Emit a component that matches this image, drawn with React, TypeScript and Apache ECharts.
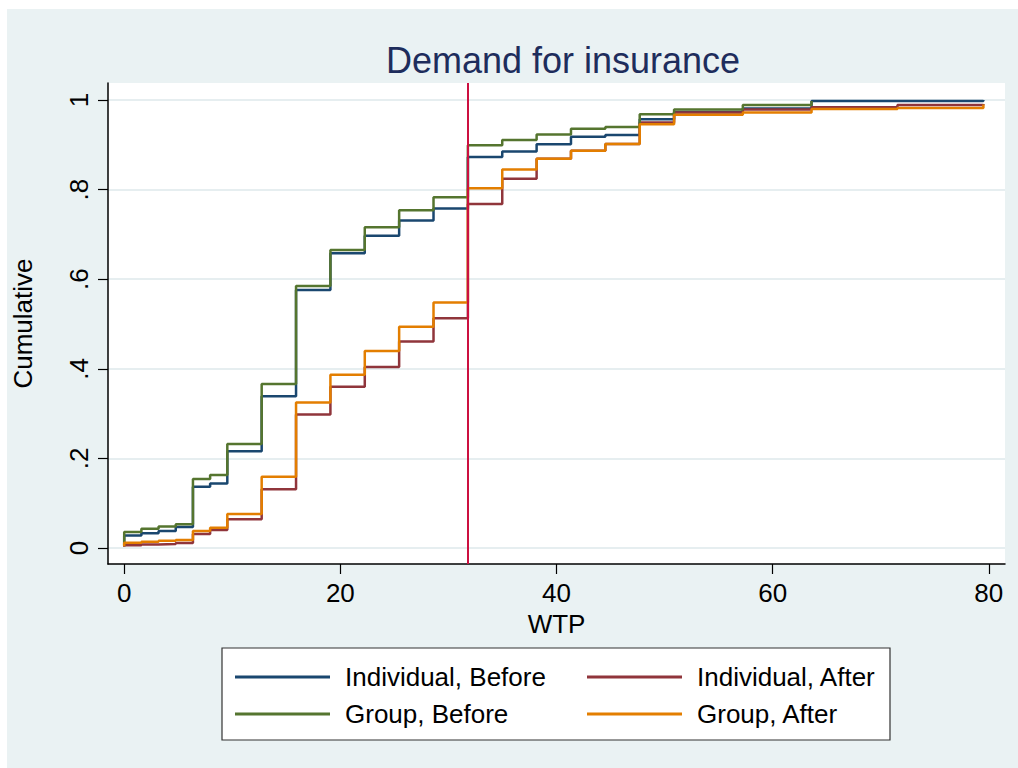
import React, { useEffect, useRef } from "react";
import * as echarts from "echarts";

const FONT = "'Liberation Sans', Arial, Helvetica, sans-serif";

const titleText = "Demand for insurance";
const seriesNames = ["Individual, Before", "Individual, After", "Group, Before", "Group, After"];
const seriesColors = ["#1a476f", "#90353b", "#55752f", "#e37e00"];

// WTP values where the cumulative share steps up
const stepX = [0, 1.59, 3.18, 4.77, 6.36, 7.95, 9.54, 12.72, 15.9, 19.08, 22.26, 25.44, 28.62, 31.8,
  34.98, 38.16, 41.34, 44.52, 47.7, 50.88, 57.24, 63.6, 71.55, 79.5];

const startShare = [0.004, 0.003, 0.005, 0.004];

const individualBefore = [0.028, 0.033, 0.038, 0.047, 0.137, 0.144, 0.216, 0.339, 0.576, 0.658, 0.697, 0.731, 0.758, 0.873,
  0.885, 0.901, 0.918, 0.922, 0.957, 0.973, 0.981, 0.998, 0.998, 1.0];
const individualAfter = [0.006, 0.008, 0.009, 0.011, 0.031, 0.040, 0.064, 0.131, 0.298, 0.360, 0.404, 0.461, 0.513, 0.768,
  0.824, 0.869, 0.887, 0.902, 0.950, 0.972, 0.979, 0.984, 0.989, 0.991];
const groupBefore = [0.036, 0.043, 0.048, 0.053, 0.154, 0.163, 0.232, 0.366, 0.585, 0.665, 0.716, 0.754, 0.783, 0.899,
  0.911, 0.923, 0.936, 0.940, 0.968, 0.979, 0.989, 0.998];
const groupAfter = [0.012, 0.014, 0.016, 0.018, 0.038, 0.045, 0.076, 0.159, 0.325, 0.387, 0.440, 0.494, 0.548, 0.803,
  0.845, 0.869, 0.887, 0.902, 0.946, 0.967, 0.972, 0.980, 0.982, 0.990];

const seriesValues = [individualBefore, individualAfter, groupBefore, groupAfter];

const cutoffWTP = 31.8;

const xTicks = [0, 20, 40, 60, 80];
const yTicks = [0, 0.2, 0.4, 0.6, 0.8, 1];
const yTickLabels = ["0", ".2", ".4", ".6", ".8", "1"];

export default function App() {
  const ref = useRef<HTMLDivElement>(null);

  useEffect(() => {
    if (!ref.current) return;
    const chart = echarts.init(ref.current, undefined, { renderer: "svg" });

    const lineSeries = seriesNames.map((name, si) => {
      const ys = seriesValues[si];
      const data: number[][] = [[stepX[0], startShare[si]]];
      ys.forEach((y, i) => data.push([stepX[i], y]));
      return {
        name,
        type: "line",
        step: "end",
        showSymbol: false,
        symbol: "none",
        data,
        z: 3,
        lineStyle: { color: seriesColors[si], width: 2.5 },
        itemStyle: { color: seriesColors[si] },
      };
    });

    const legendCommon = {
      orient: "vertical",
      top: 659,
      itemWidth: 95,
      itemHeight: 3,
      itemGap: 11,
      icon: "rect",
      z: 6,
      textStyle: { fontSize: 26, color: "#000", fontFamily: FONT, lineHeight: 26, padding: [0, 0, 0, 10] },
    };

    chart.setOption({
      animation: false,
      backgroundColor: "transparent",
      textStyle: { fontFamily: FONT },
      title: {
        text: titleText,
        left: 558,
        top: 37,
        textAlign: "center",
        textStyle: { fontSize: 36, fontWeight: "normal", color: "#1e2d5c", fontFamily: FONT },
      },
      grid: {
        left: 108,
        right: 13,
        top: 83,
        bottom: 204,
        show: true,
        backgroundColor: "#ffffff",
        borderWidth: 0,
        containLabel: false,
        outerBoundsMode: "none",
      },
      legend: [
        { ...legendCommon, left: 230, data: [seriesNames[0], seriesNames[2]] },
        { ...legendCommon, left: 582, data: [seriesNames[1], seriesNames[3]] },
      ],
      graphic: [
        {
          type: "rect",
          z: 0,
          shape: { x: 222, y: 648, width: 668, height: 92 },
          style: { fill: "#ffffff", stroke: "#333333", lineWidth: 1.2 },
        },
      ],
      xAxis: {
        type: "value",
        min: -1.5,
        max: 81.5,
        name: "WTP",
        nameLocation: "middle",
        nameGap: 44,
        nameTextStyle: { fontSize: 26, color: "#000", fontFamily: FONT },
        axisLine: { show: true, onZero: false, lineStyle: { color: "#000", width: 1.5 } },
        axisTick: { show: true, length: 10, customValues: xTicks, lineStyle: { color: "#000", width: 1.2 } },
        axisLabel: { customValues: xTicks, fontSize: 26, color: "#000", margin: 16, fontFamily: FONT },
        splitLine: { show: false },
      },
      yAxis: {
        type: "value",
        min: -0.0357,
        max: 1.038,
        name: "Cumulative",
        nameLocation: "middle",
        nameGap: 72,
        nameRotate: 90,
        nameTextStyle: { fontSize: 26, color: "#000", fontFamily: FONT },
        axisLine: { show: true, onZero: false, lineStyle: { color: "#000", width: 1.5 } },
        axisTick: { show: true, length: 10, customValues: yTicks, lineStyle: { color: "#000", width: 1.2 } },
        axisLabel: {
          customValues: yTicks,
          rotate: 90,
          fontSize: 26,
          color: "#000",
          margin: 16,
          fontFamily: FONT,
          formatter: (v: number) => {
            let best = 0;
            yTicks.forEach((t, i) => { if (Math.abs(t - v) < Math.abs(yTicks[best] - v)) best = i; });
            return yTickLabels[best];
          },
        },
        splitLine: { show: true, lineStyle: { color: "#e6eef0", width: 2 } },
      },
      series: [
        {
          name: "cutoff",
          type: "line",
          data: [],
          z: 2,
          silent: true,
          markLine: {
            silent: true,
            symbol: "none",
            label: { show: false },
            lineStyle: { color: "#cc1040", width: 2, type: "solid" },
            data: [{ xAxis: cutoffWTP }],
          },
        },
        ...lineSeries,
      ],
    });

    return () => chart.dispose();
  }, []);

  return (
    <div style={{ position: "absolute", left: 0, top: 0, width: 1018, height: 768, background: "#ffffff" }}>
      <div style={{ position: "absolute", left: 7, top: 9, width: 1011, height: 759, background: "#eaf2f3" }} />
      <div ref={ref} style={{ position: "absolute", left: 0, top: 0, width: 1018, height: 768 }} />
    </div>
  );
}
